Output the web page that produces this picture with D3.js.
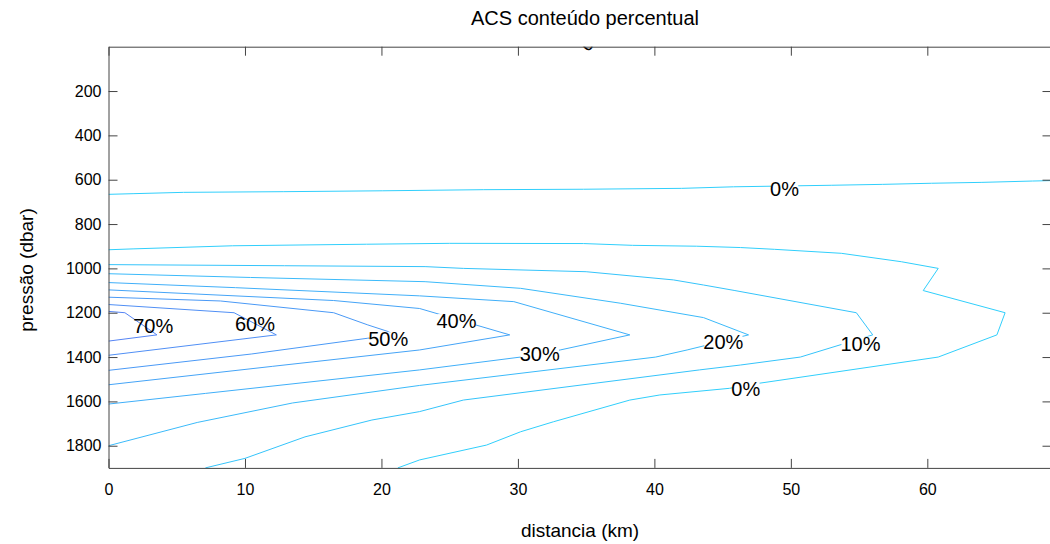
<!DOCTYPE html>
<html>
<head>
<meta charset="utf-8">
<script src="https://cdn.jsdelivr.net/npm/d3@7"></script>
<style>
  body { margin: 0; background: #fff; }
  svg { display: block; }
  text { font-family: "Liberation Sans", Arial, Helvetica, sans-serif; }
</style>
</head>
<body>
<svg id="chart" width="1050" height="544"></svg>
<script>
// Contour lines of ACS percentage content: [distance (km), pressure (dbar)]
const levels = [0, 10, 20, 30, 40, 50, 60, 70];

const contour0Upper = [[0, 666], [1.8, 663], [5.5, 657], [12.8, 654], [20.1, 650], [27.5, 645],
  [34.8, 643], [42.0, 639], [45.8, 632], [53.0, 625], [56.7, 621], [60.3, 616], [64.0, 612],
  [67.7, 606], [69.1, 604]];

const contour0 = [[0, 916], [1.8, 912], [9.1, 898], [18.9, 891], [25.0, 887], [34.8, 888],
  [38.4, 896], [43.1, 900], [46.3, 906], [48.8, 914], [53.7, 932], [58.1, 970], [60.8, 1000],
  [59.7, 1100], [65.7, 1200], [65.1, 1300], [60.8, 1400], [47.7, 1518], [45.5, 1541],
  [40.4, 1571], [38.2, 1594], [32.6, 1692], [30.2, 1737], [27.7, 1797], [22.8, 1864], [21.2, 1900]];

const contour10 = [[0, 983], [12.9, 988], [23.2, 992], [26.0, 1000], [35.0, 1015], [41.4, 1052],
  [43.6, 1075], [45.9, 1100], [54.8, 1200], [56.0, 1300], [50.7, 1400], [46.3, 1436],
  [43.3, 1458], [26.0, 1594], [22.8, 1646], [19.3, 1684], [14.4, 1760], [10.0, 1857], [7.1, 1900]];

const contour20 = [[0, 1024], [10.4, 1041], [23.2, 1060], [30.2, 1090], [37.5, 1157],
  [43.6, 1222], [46.9, 1300], [42.4, 1368], [40.1, 1400], [22.8, 1528], [13.5, 1607],
  [6.5, 1695], [0, 1800]];

const contour30 = [[0, 1064], [9.3, 1087], [22.8, 1124], [29.7, 1150], [38.2, 1300],
  [33.1, 1368], [30.2, 1400], [22.8, 1458], [7.1, 1564], [0, 1612]];

const contour40 = [[0, 1097], [16.5, 1145], [22.8, 1181], [29.4, 1300], [22.8, 1368],
  [12.0, 1442], [0, 1525]];

const contour50 = [[0, 1130], [8.2, 1147], [16.5, 1200], [19.0, 1255], [20.5, 1285],
  [20.9, 1300], [19.0, 1315], [10.5, 1386], [0, 1460]];

const contour60 = [[0, 1163], [9.2, 1200], [12.3, 1300], [0, 1392]];

const contour70 = [[0, 1194], [1.2, 1200], [3.55, 1300], [0, 1328]];

const contourLines = [
  { level: 0, points: contour0Upper },
  { level: 0, points: contour0 },
  { level: 10, points: contour10 },
  { level: 20, points: contour20 },
  { level: 30, points: contour30 },
  { level: 40, points: contour40 },
  { level: 50, points: contour50 },
  { level: 60, points: contour60 },
  { level: 70, points: contour70 }
];

// Inline contour labels: [text, level, distance (km), pressure (dbar)]
const contourLabels = [
  ["70%", 70, 3.28, 1259],
  ["60%", 60, 10.73, 1252],
  ["50%", 50, 20.5, 1319],
  ["40%", 40, 25.5, 1237],
  ["30%", 30, 31.6, 1387],
  ["20%", 20, 45.05, 1333],
  ["10%", 10, 55.1, 1338],
  ["0%", 0, 46.7, 1543],
  ["0%", 0, 49.54, 640]
];
// label of a tiny contour at the surface, tilted and mostly outside the axes
const surfaceLabel = ["0%", 34.95, 25];

const xTicks = [0, 10, 20, 30, 40, 50, 60];
const yTicks = [200, 400, 600, 800, 1000, 1200, 1400, 1600, 1800];
const xDomain = [0, 69.1];
const yDomain = [0, 1900];

const svg = d3.select("#chart");
const plot = { left: 108.5, right: 1051.5, top: 46.7, bottom: 467.9 };

const x = d3.scaleLinear().domain(xDomain).range([plot.left, plot.right]);
const y = d3.scaleLinear().domain(yDomain).range([plot.top, plot.bottom]);
const color = d3.scaleLinear().domain([0, 70]).range(["#30cffc", "#5584f4"])
  .interpolate(d3.interpolateRgb);

svg.append("defs").append("clipPath").attr("id", "plotClip")
  .append("rect")
  .attr("x", plot.left).attr("y", plot.top)
  .attr("width", plot.right - plot.left).attr("height", plot.bottom - plot.top);

const area = svg.append("g").attr("clip-path", "url(#plotClip)");

const line = d3.line().x(d => x(d[0])).y(d => y(d[1]));

area.selectAll("path.contour")
  .data(contourLines)
  .join("path")
  .attr("class", "contour")
  .attr("d", d => line(d.points))
  .attr("fill", "none")
  .attr("stroke", d => color(d.level))
  .attr("stroke-width", 1);

// labels; the lower levels cut a gap in their line
const labelG = area.append("g");
contourLabels.forEach(([txt, lev, km, p]) => {
  const g = labelG.append("g");
  const t = g.append("text")
    .attr("x", x(km)).attr("y", y(p))
    .attr("dy", "0.36em")
    .attr("text-anchor", "middle")
    .attr("font-size", 20)
    .attr("fill", "#000")
    .text(txt);
  if (lev < 60) {
    const b = t.node().getBBox();
    g.insert("rect", "text")
      .attr("x", b.x + 1).attr("y", b.y + 4)
      .attr("width", b.width - 2).attr("height", b.height - 8)
      .attr("fill", "#fff");
  }
});

labelG.append("text")
  .attr("transform", `translate(${x(surfaceLabel[1])},${y(surfaceLabel[2])}) rotate(-30)`)
  .attr("font-size", 20)
  .attr("fill", "#000")
  .text(surfaceLabel[0]);

// axes with inward ticks on all four sides
const axisColor = "#444";
function styleAxis(g) {
  g.attr("font-family", '"Liberation Sans", Arial, Helvetica, sans-serif')
    .attr("font-size", 16);
  g.selectAll(".domain").attr("stroke", axisColor);
  g.selectAll(".tick line").attr("stroke", axisColor);
  g.selectAll(".tick text").attr("fill", "#000");
}

svg.append("g")
  .attr("transform", `translate(0,${plot.bottom})`)
  .call(d3.axisBottom(x).tickValues(xTicks).tickFormat(d3.format("d"))
    .tickSizeInner(-9).tickSizeOuter(0).tickPadding(16))
  .call(styleAxis);

svg.append("g")
  .attr("transform", `translate(0,${plot.top})`)
  .call(d3.axisTop(x).tickValues(xTicks).tickSizeInner(-9).tickSizeOuter(0).tickFormat(""))
  .call(styleAxis);

svg.append("g")
  .attr("transform", `translate(${plot.left},0)`)
  .call(d3.axisLeft(y).tickValues(yTicks).tickFormat(d3.format("d"))
    .tickSizeInner(-9).tickSizeOuter(0).tickPadding(7))
  .call(styleAxis);

svg.append("g")
  .attr("transform", `translate(${plot.right},0)`)
  .call(d3.axisRight(y).tickValues(yTicks).tickSizeInner(-9).tickSizeOuter(0).tickFormat(""))
  .call(styleAxis);

// titles
svg.append("text")
  .attr("x", 585).attr("y", 25)
  .attr("text-anchor", "middle")
  .attr("font-size", 20)
  .text("ACS conteúdo percentual");

svg.append("text")
  .attr("x", 580).attr("y", 537)
  .attr("text-anchor", "middle")
  .attr("font-size", 19)
  .text("distancia (km)");

svg.append("text")
  .attr("transform", "translate(33,270) rotate(-90)")
  .attr("text-anchor", "middle")
  .attr("font-size", 19)
  .text("pressão (dbar)");
</script>
</body>
</html>
